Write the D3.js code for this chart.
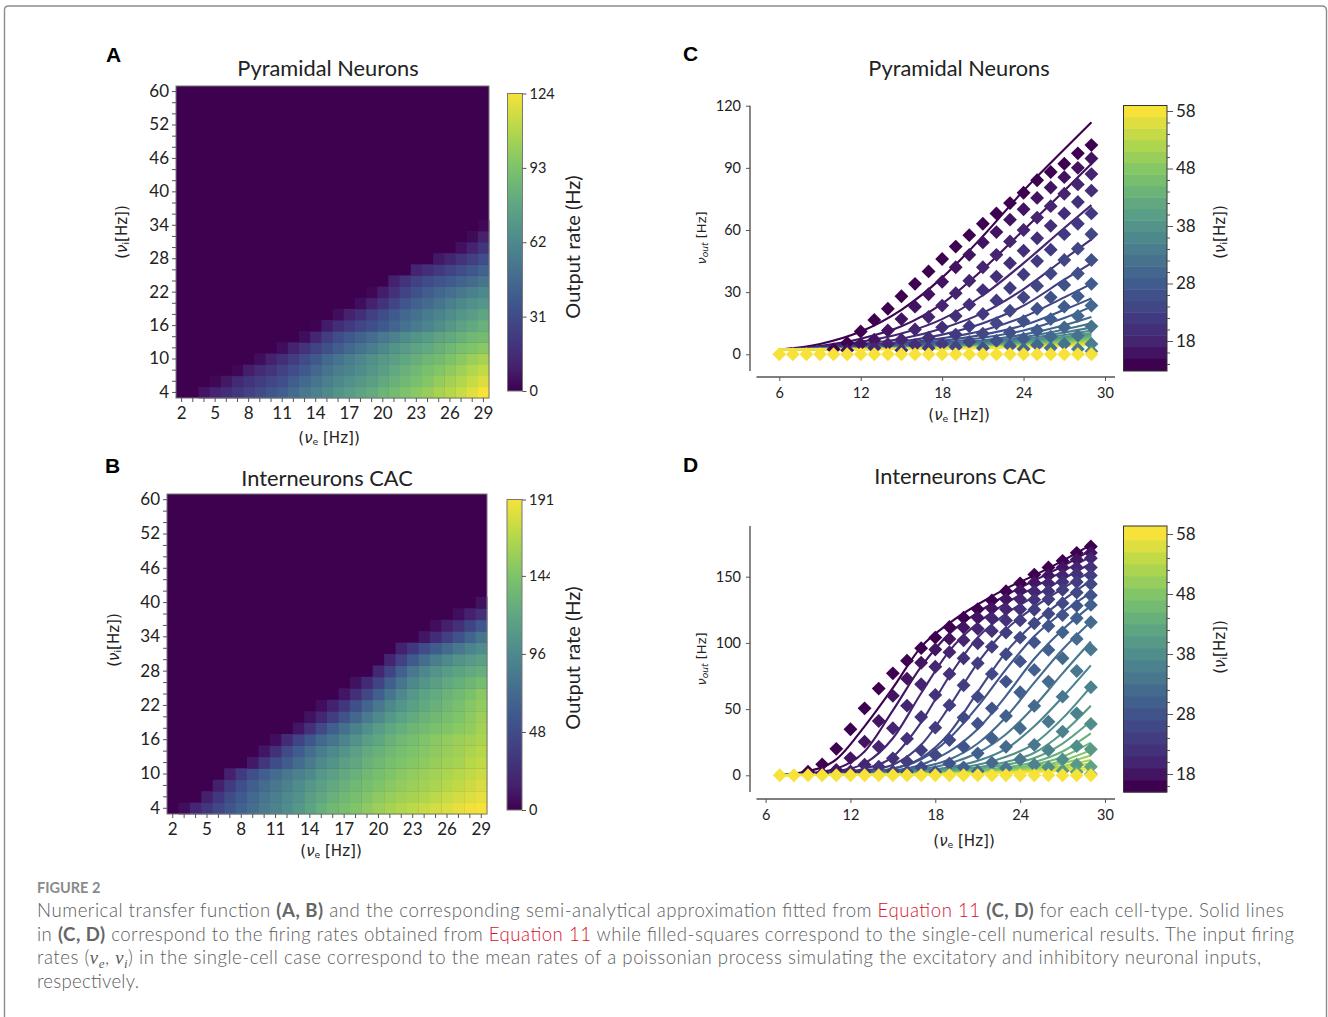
<!DOCTYPE html>
<html>
<head>
<meta charset="utf-8">
<script src="https://cdn.jsdelivr.net/npm/d3@7"></script>
<style>
    html, body { margin: 0; padding: 0; background: #fff; overflow: hidden; }
    text { font-family: Lato, "Noto Sans", sans-serif; fill: #222; }
    .nu { font-family: "DejaVu Sans", sans-serif; font-style: italic; }
    .unit { font-family: "DejaVu Sans", sans-serif; }
    .letter { font-family: "Liberation Sans", sans-serif; font-weight: 700; font-size: 21px; fill: #000; }
    .caption { font-weight: 300; font-size: 18.6px; fill: #5c5c5c; }
    .caption .bold { font-weight: 700; fill: #666; }
    .caption .link { fill: #d5122f; }
    .caption .greek { font-family: "Liberation Serif", serif; font-style: italic; }
    .domain, .tick line { stroke: #555; }
</style>
</head>
<body>
<svg id="fig" width="1328" height="1017"></svg>
<script>
// heatmap axes
const veCols = d3.range(2, 30);
const rowIdx = d3.range(28);
const rowTickLabels = [4, 10, 16, 22, 28, 34, 40, 46, 52, 60];

// heatmap A, rows from vi=4 upwards, only the non-zero right end of each row
const heatA = [
    [6,11,16,21,26,31,36,41,47,53,58,63,68,72,76,80,85,89,93,97,101,105,109,113,119,124],
    [2,7,14,19,24,29,33,40,46,52,57,62,66,70,74,79,83,87,91,95,100,104,108,113,118],
    [2,9,15,20,26,32,38,45,51,56,60,64,69,74,79,83,87,91,95,99,103,108,112],
    [4,10,17,24,31,38,46,51,56,61,66,71,74,78,82,86,89,93,97,102,105],
    [4,11,19,27,34,40,46,51,56,62,68,72,76,79,83,87,91,94,97],
    [4,13,24,32,38,43,48,54,59,64,68,72,76,79,83,87,89],
    [1,8,16,22,28,33,38,44,50,55,60,65,70,75,79,83],
    [4,10,17,25,32,39,45,50,55,60,64,69,73,77],
    [4,10,19,28,36,42,47,52,57,62,66,69],
    [2,9,18,27,34,40,45,49,53,58,62],
    [10,19,26,31,35,39,43,47,52],
    [12,17,22,27,32,37,42],
    [7,12,19,25,32],
    [5,11,20],
    [3,10],
    [2]
];

// heatmap B, same layout
const heatB = [
    [6,19,32,44,55,65,74,84,92,99,107,117,126,134,139,145,151,157,162,166,170,174,178,181,185,189,191],
    [15,32,48,59,71,80,88,96,103,113,120,128,134,139,145,151,155,159,162,166,170,174,178,181,185],
    [15,34,50,63,73,82,90,99,107,115,122,128,134,139,145,149,153,157,160,164,168,172,176,180],
    [15,34,50,63,73,82,90,97,107,115,122,128,134,139,145,149,153,157,160,164,168,172,176],
    [11,31,48,61,73,84,96,105,113,120,128,134,139,143,147,151,155,159,162,168,172],
    [10,27,46,61,74,86,96,105,115,122,128,134,139,143,147,151,155,159,164,168],
    [6,23,42,57,71,80,92,103,113,120,128,134,139,144,149,153,157,160,164],
    [10,27,46,63,76,90,101,111,120,126,132,137,141,145,149,153,160],
    [8,20,36,54,69,84,97,107,116,123,129,134,139,144,150,157],
    [6,16,32,50,67,82,95,106,115,122,128,134,140,147,153],
    [10,26,44,63,80,95,107,116,123,129,135,142,149],
    [8,22,42,62,80,95,106,114,121,127,133,138],
    [20,42,64,82,94,104,111,117,122,126],
    [18,40,60,75,87,96,104,110,115],
    [16,32,48,61,72,82,91,99],
    [10,23,38,53,67,80],
    [6,15,27,42,57],
    [6,15,27],
    [8]
];

// fitted lines of panel C, vi=14,16,...,58 at these ve values
const kneesC = [6, 9, 12, 15, 18, 21, 24, 27, 29];
const linesC = [
    [2.3,5,11,21.5,37,57,79,99,112],
    [2.3,4,7.5,13.5,24.5,41,60,79,92],
    [2.3,3.6,6,10,17,28.5,44,61,72],
    [2.3,3.3,5,7.5,12.5,20,31.5,46,55.5],
    [2.3,3.1,4.3,6.2,9.5,15,23.5,36,44],
    [2.3,3,3.8,5.4,7.7,11.5,18,27.5,34],
    [2.3,2.9,3.5,4.7,6.5,9.5,14,21.5,27],
    [2.3,2.8,3.3,4.3,5.7,8,11.5,17.5,23],
    [2.3,2.8,3.1,3.9,5,6.8,9.5,14,18],
    [2.3,2.7,3,3.6,4.5,6,8.3,12,15],
    [2.3,2.7,2.9,3.4,4.2,5.4,7.4,10.5,13],
    [2.3,2.6,2.8,3.2,3.9,5,6.7,9.3,11.5],
    [2.3,2.6,2.8,3.1,3.7,4.6,6.1,8.4,10.3],
    [2.3,2.6,2.7,3,3.5,4.3,5.6,7.7,9.5],
    [2.3,2.5,2.7,2.9,3.4,4.1,5.2,7.1,8.8],
    [2.3,2.5,2.6,2.9,3.3,3.9,4.9,6.6,8.1],
    [2.3,2.5,2.6,2.8,3.2,3.7,4.6,6.1,7.5],
    [2.3,2.5,2.6,2.8,3.1,3.6,4.4,5.7,7],
    [2.3,2.4,2.5,2.7,3,3.5,4.2,5.3,6.4],
    [2.3,2.4,2.5,2.7,2.9,3.4,4,5,5.9],
    [2.3,2.4,2.5,2.6,2.9,3.3,3.8,4.6,5.4],
    [2.3,2.4,2.5,2.6,2.8,3.2,3.6,4.3,5],
    [2.3,2.4,2.4,2.6,2.7,3,3.4,4,4.5]
];

// numerical points of panel C, vi=14,16,...; each list ends at ve=29
const pointsC = [
    [2.4,5.5,11,16.6,22,28,34,40,46,52,57.5,63,68,73,78,84,88,92,97,101],
    [2,5,7,11.5,17,23,29,35,42,48,54,59,65,70,75.5,80.5,85.5,90,94.5],
    [3,5,7,12,18,23.5,29.5,35.5,42,48,54.5,60,66,71.5,77.5,82,87],
    [2,4.5,8,13,18.5,24,31,37.5,44,50,56,62,68,73.5,79],
    [3,5,9.5,13.5,19.5,26,32,38.5,45,50.5,58,63,68],
    [3.5,6,10,15,21,27.5,33,39,45.5,51,58],
    [3,6.5,10.5,16,22,27.5,33.5,39,45.5],
    [4,7.5,11.5,17,23,28,34],
    [2.5,4.5,8.5,13,18.5,23.5],
    [3,5,9,13.5],
    [2.5,5],
    [1.5]
];
const flatC = [0,0,0,0,0,0,0,0,0,0,0,0,0,0,0,0,0,0,0,0,0,0,0,0];

// fitted lines of panel D, vi=16,18,...,58
const kneesD = [7, 9, 11, 13, 15, 17, 19, 21, 23, 25, 27, 29];
const linesD = [
    [0.5,3,12,37,66,97,115,129,141,151,162,174],
    [0.4,1.5,5,18,49,82,107,123,136,147,158,170],
    [0.4,1,3,9,28,62,94,115,130,142,154,165],
    [0.3,0.8,2,5,14,40,75,104,122,135,148,160],
    [0.3,0.7,1.5,3.5,8,23,52,85,110,127,141,154],
    [0.3,0.6,1.2,2.5,5,13,32,63,93,115,132,147],
    [0.3,0.6,1,2,5,12,28,52,80,105,123,138],
    [0.3,0.5,0.9,1.6,3.5,8,18,35,60,88,110,128],
    [0.3,0.5,0.8,1.3,2.6,6,12,24,44,70,95,116],
    [0.3,0.5,0.7,1.1,2.1,4.5,9,17,31,52,77,101],
    [0.3,0.4,0.6,1,2,3.5,6,11,20,37,59,83],
    [0.2,0.4,0.6,0.9,1.6,2.9,5,8,14,24,43,67],
    [0.2,0.4,0.5,0.8,1.4,2.4,4,6,10,17,32,52.6],
    [0.2,0.3,0.5,0.7,1.2,2,3.2,5,8,13,24,41],
    [0.2,0.3,0.4,0.6,1,1.7,2.7,4,6,10,18,31.7],
    [0.2,0.3,0.4,0.6,0.9,1.4,2.3,3.4,5,8,14,24.7],
    [0.2,0.3,0.4,0.5,0.8,1.2,1.9,2.8,4,6.5,11,19],
    [0.2,0.3,0.3,0.5,0.7,1,1.6,2.4,3.4,5.2,9,15],
    [0.1,0.2,0.3,0.4,0.6,0.9,1.4,2,2.9,4.3,7,11.6],
    [0.1,0.2,0.3,0.4,0.5,0.8,1.2,1.7,2.4,3.6,5.6,9],
    [0.1,0.2,0.3,0.3,0.5,0.7,1,1.5,2,3,4.4,6.5],
    [0.1,0.2,0.2,0.3,0.4,0.6,0.9,1.2,1.7,2.4,3.4,4.5]
];

// numerical points of panel D, vi=16,18,...
const pointsD = [
    [2.7,8.3,20,34.8,50.6,65.5,77,86.6,96,104,112,119,125.5,132,139,145,151.6,157,162,168,172.8],
    [1.5,4,13,25.4,41,60,73,85,95,103,111.6,119,126,133,139.5,145.6,151,157,163,168],
    [3,8,21.6,35.5,52.6,68.8,82,93,102,110.6,118.6,125.4,133,138.8,145,151,157,164],
    [2.5,6.5,12.8,27.7,44,60.7,76.6,88.4,99.7,109,117,125.4,132.5,139,146,152,157],
    [3,10.3,19,36,53,68,84.6,97,107.8,117,125,133,140,146,151],
    [2.5,6,15.4,26.7,43.6,59.4,76.6,91.4,104,114.8,122,130,138,144.5],
    [2.5,9,21.6,39,50.6,70.8,86,100.5,112.8,121,128,136],
    [6,16.6,28,44.8,62.7,79.6,94.7,108,118.6,128.7],
    [3,9.5,21.6,35.5,52.4,70.8,88.4,103,115.6],
    [5.5,12,23,40.5,59.4,78.8,95],
    [8,19,33,46.8,66.5],
    [6,12,22,38.8],
    [3.5,8,19.6],
    [2.5,6.5],
    [1]
];
const flatD = [0,0,0,0,0,0,0,0,0,0,0,0,0,0,0,0,0,0,0,0,0,0,0];

// colours
const stops = ["#3d0150", "#45216e", "#423a80", "#3f5a8e", "#47758e", "#4f8d8c", "#5fa782", "#7cc36b", "#b5d84a", "#f7e23a"];
const stopAt = [0, 0.08, 0.18, 0.31, 0.42, 0.52, 0.63, 0.75, 0.88, 1];
const ramp = d3.scaleLinear().domain(stopAt).range(stops).interpolate(d3.interpolateRgb).clamp(true);

const svg = d3.select("#fig");

// frame around the figure
svg.append("path")
    .attr("d", "M4.5,1017V10q0,-4 4,-4H1322q4,0 4.5,4V1017")
    .attr("fill", "none")
    .attr("stroke", "#8c8c8c")
    .attr("stroke-width", 1.4);

function nuLabel(sel, sub, bracket) {
    // writes (nu_e [Hz]) style labels
    sel.append("tspan").attr("class", "unit").text("(");
    sel.append("tspan").attr("class", "nu").text("ν");
    sel.append("tspan").attr("class", "unit").attr("font-size", "0.62em").attr("dy", "0.25em").text(sub);
    sel.append("tspan").attr("class", "unit").attr("dy", "-0.16em").text(bracket);
}

function heatPanel(o) {
    const g = svg.append("g");
    const x = d3.scaleBand().domain(veCols).range([o.left, o.right]);
    const y = d3.scaleBand().domain(rowIdx).range([o.bottom, o.top]);
    const colour = v => ramp(v / o.max);

    g.append("rect")
        .attr("x", o.left).attr("y", o.top)
        .attr("width", o.right - o.left).attr("height", o.bottom - o.top)
        .attr("fill", ramp(0));

    o.rows.forEach((row, r) => {
        g.selectAll(null)
            .data(row)
            .enter()
            .append("rect")
            .attr("x", (d, i) => x(veCols[veCols.length - row.length + i]))
            .attr("y", y(r))
            .attr("width", x.bandwidth() + 0.4)
            .attr("height", y.bandwidth() + 0.4)
            .attr("fill", colour);
    });

    g.append("rect")
        .attr("x", o.left).attr("y", o.top)
        .attr("width", o.right - o.left).attr("height", o.bottom - o.top)
        .attr("fill", "none").attr("stroke", "#777").attr("stroke-width", 1);

    const xAxis = d3.axisBottom(x).tickSize(4).tickPadding(2)
        .tickFormat(d => (d - 2) % 3 === 0 ? d : "");
    const yAxis = d3.axisLeft(y).tickSize(4).tickPadding(3)
        .tickFormat(d => d % 3 === 0 ? rowTickLabels[d / 3] : "");
    g.append("g").attr("transform", `translate(0,${o.bottom})`).call(xAxis)
        .call(a => a.select(".domain").remove())
        .selectAll("text").attr("font-size", 17).attr("dy", "0.9em");
    g.append("g").attr("transform", `translate(${o.left},0)`).call(yAxis)
        .call(a => a.select(".domain").remove())
        .selectAll("text").attr("font-size", 17);

    g.append("text").attr("x", o.titleX).attr("y", o.titleY)
        .attr("text-anchor", "middle").attr("font-size", 21.8).text(o.title);

    g.append("text").attr("x", o.xLabelX).attr("y", o.xLabelY)
        .attr("text-anchor", "middle").attr("font-size", 15)
        .call(nuLabel, "e", " [Hz])");
    g.append("text").attr("transform", `translate(${o.yLabelX},${o.yLabelY}) rotate(-90)`)
        .attr("text-anchor", "middle").attr("font-size", 15)
        .call(nuLabel, "i", "[Hz])");

    // colour bar
    const cb = d3.scaleLinear().domain([0, o.max]).range([o.cbBottom, o.cbTop]);
    const gradId = "grad" + o.max;
    const grad = svg.append("defs").append("linearGradient").attr("id", gradId)
        .attr("x1", 0).attr("x2", 0).attr("y1", 1).attr("y2", 0);
    stopAt.forEach((s, i) => grad.append("stop").attr("offset", s).attr("stop-color", stops[i]));
    g.append("rect").attr("x", o.cbLeft).attr("y", o.cbTop)
        .attr("width", 15).attr("height", o.cbBottom - o.cbTop)
        .attr("fill", `url(#${gradId})`).attr("stroke", "#777").attr("stroke-width", 1);
    const cbAxis = g.append("g").attr("class", "cb-axis").attr("transform", `translate(${o.cbLeft + 15},0)`)
        .call(d3.axisRight(cb).tickValues(o.cbTicks).tickFormat(d3.format("d")).tickSize(4).tickPadding(3))
        .call(a => a.select(".domain").remove());
    cbAxis.selectAll("text").attr("font-size", 14.5);

    g.append("text").attr("transform", `translate(${o.rateX},${o.rateY}) rotate(-90)`)
        .attr("text-anchor", "middle").attr("font-size", 20).text("Output rate (Hz)");
    return g;
}

function curvePanel(o) {
    const g = svg.append("g");
    const x = d3.scaleLinear().domain([6, 30]).range([o.x6, o.x30]);
    const y = d3.scaleLinear().domain([0, o.refVal]).range([o.y0, o.yRef]);
    const vals = d3.range(o.firstVi, 60, 2);
    const colour = d3.scaleLinear().domain([o.firstVi, 58]).range([0, 1]);
    const col = v => ramp(colour(v));

    const line = d3.line().x(d => x(d[0])).y(d => y(d[1])).curve(d3.curveMonotoneX);
    o.lines.forEach((row, i) => {
        g.append("path")
            .attr("d", line(row.map((v, k) => [o.knees[k], v])))
            .attr("fill", "none")
            .attr("stroke", col(vals[i]))
            .attr("stroke-width", 2.1);
    });

    const diamond = d3.symbol(d3.symbolSquare, 96);
    const drawPoints = (row, v) => {
        g.selectAll(null)
            .data(row)
            .enter()
            .append("path")
            .attr("d", diamond())
            .attr("transform", (d, i) => `translate(${x(29 - row.length + 1 + i)},${y(d)}) rotate(45)`)
            .attr("fill", col(v));
    };
    o.points.forEach((row, i) => drawPoints(row, vals[i]));
    drawPoints(o.flat, 58);

    // axes, left and bottom spines offset like in the original
    g.append("g").attr("transform", `translate(${o.axisX},0)`)
        .call(d3.axisLeft(y).tickValues(o.yTicks).tickSize(4).tickPadding(5).tickFormat(d3.format("d")))
        .call(a => a.select(".domain").remove())
        .selectAll("text").attr("font-size", 14.5);
    g.append("line").attr("x1", o.axisX).attr("x2", o.axisX).attr("y1", o.spineTop).attr("y2", o.spineBottom)
        .attr("stroke", "#555").attr("stroke-width", 1.4);
    g.append("g").attr("transform", `translate(0,${o.axisY})`)
        .call(d3.axisBottom(x).tickValues([6, 12, 18, 24, 30]).tickSize(4).tickPadding(7).tickFormat(d3.format("d")))
        .call(a => a.select(".domain").remove())
        .selectAll("text").attr("font-size", 14.5);
    g.append("line").attr("x1", 756.5).attr("x2", 1115).attr("y1", o.axisY).attr("y2", o.axisY)
        .attr("stroke", "#555").attr("stroke-width", 1.4);

    g.append("text").attr("x", o.titleX).attr("y", o.titleY)
        .attr("text-anchor", "middle").attr("font-size", 21.8).text(o.title);
    g.append("text").attr("x", o.xLabelX).attr("y", o.xLabelY)
        .attr("text-anchor", "middle").attr("font-size", 15)
        .call(nuLabel, "e", " [Hz])");

    // y label
    const yl = g.append("text").attr("transform", `translate(${o.yLabelX},${o.yLabelY}) rotate(-90)`)
        .attr("text-anchor", "middle").attr("font-size", 13);
    yl.append("tspan").attr("class", "nu").text("ν");
    yl.append("tspan").attr("class", "nu").attr("font-size", "0.7em").attr("dy", "0.25em").text("out");
    yl.append("tspan").attr("class", "unit").attr("dy", "-0.18em").text(" [Hz]");

    // discrete colour bar, end bands run up to the frame
    const cbStep = o.cbStep;
    const cbY = d3.scaleLinear().domain([18, 58]).range([o.cb18, o.cb58]);
    g.append("rect").attr("x", 1123.5).attr("y", o.cbTop).attr("width", 43.5).attr("height", 20).attr("fill", col(58));
    g.append("rect").attr("x", 1123.5).attr("y", o.cbBottom - 20).attr("width", 43.5).attr("height", 20).attr("fill", col(o.firstVi));
    g.selectAll(null)
        .data(vals)
        .enter()
        .append("rect")
        .attr("x", 1123.5)
        .attr("y", d => cbY(d) - cbStep / 2)
        .attr("width", 43.5)
        .attr("height", cbStep + 0.5)
        .attr("fill", col);
    g.append("rect")
        .attr("x", 1123.5).attr("y", o.cbTop)
        .attr("width", 43.5).attr("height", o.cbBottom - o.cbTop)
        .attr("fill", "none").attr("stroke", "#333").attr("stroke-width", 1);
    const cbAxis = d3.axisRight(cbY).tickValues(vals).tickSize(0).tickPadding(4)
        .tickFormat(d => (d - 18) % 10 === 0 ? d : "");
    g.append("g").attr("transform", "translate(1167,0)").call(cbAxis)
        .call(a => a.select(".domain").remove())
        .call(a => a.selectAll(".tick line").attr("x2", d => (d - 18) % 10 === 0 ? 6 : 3).attr("stroke", "#333"))
        .selectAll("text").attr("font-size", 17).attr("x", 9);

    g.append("text").attr("transform", `translate(${o.viX},${o.viY}) rotate(-90)`)
        .attr("text-anchor", "middle").attr("font-size", 15)
        .call(nuLabel, "i", "[Hz])");
}

heatPanel({
    rows: heatA, max: 124, title: "Pyramidal Neurons", titleX: 328, titleY: 76,
    left: 176, right: 489, top: 86, bottom: 398,
    xLabelX: 329, xLabelY: 443, yLabelX: 127, yLabelY: 232,
    cbLeft: 507.5, cbTop: 93.5, cbBottom: 391, cbTicks: [0, 31, 62, 93, 124],
    rateX: 580, rateY: 247
});

const heatB_ = heatPanel({
    rows: heatB, max: 191, title: "Interneurons CAC", titleX: 327, titleY: 486,
    left: 167, right: 487, top: 494, bottom: 814,
    xLabelX: 331, xLabelY: 856, yLabelX: 119, yLabelY: 640,
    cbLeft: 507, cbTop: 499.5, cbBottom: 810, cbTicks: [0, 48, 96, 144, 191],
    rateX: 580, rateY: 658
});
// the 144 of panel B is cut off in the original, clip is in the tick's own coordinates
svg.append("clipPath").attr("id", "cut144").append("rect").attr("x", 0).attr("y", -12).attr("width", 28).attr("height", 24);
heatB_.select(".cb-axis").selectAll(".tick")
    .filter(d => d === 144)
    .attr("clip-path", "url(#cut144)");

curvePanel({
    title: "Pyramidal Neurons", titleX: 959, titleY: 76,
    x6: 779.3, x30: 1105, refVal: 120, y0: 354.3, yRef: 105.7,
    firstVi: 14, knees: kneesC, lines: linesC, points: pointsC, flat: flatC,
    yTicks: [0, 30, 60, 90, 120], axisX: 750, spineTop: 105.7, spineBottom: 371, axisY: 377,
    xLabelX: 959, xLabelY: 420, yLabelX: 706, yLabelY: 238,
    cb18: 341, cb58: 111, cbStep: 11.5, cbTop: 105.5, cbBottom: 371,
    viX: 1225, viY: 232
});

curvePanel({
    title: "Interneurons CAC", titleX: 960, titleY: 484,
    x6: 765.6, x30: 1105, refVal: 150, y0: 775.3, yRef: 576.7,
    firstVi: 16, knees: kneesD, lines: linesD, points: pointsD, flat: flatD,
    yTicks: [0, 50, 100, 150], axisX: 750, spineTop: 526, spineBottom: 792, axisY: 799,
    xLabelX: 964, xLabelY: 846, yLabelX: 706, yLabelY: 659,
    cb18: 774, cb58: 534, cbStep: 12, cbTop: 526, cbBottom: 792,
    viX: 1225, viY: 647
});

// panel letters
[["A", 106, 62], ["B", 105, 473], ["C", 683, 61], ["D", 683, 472]].forEach(l => {
    svg.append("text").attr("class", "letter").attr("x", l[1]).attr("y", l[2]).text(l[0]);
});

// caption
svg.append("text").attr("x", 37).attr("y", 893).attr("font-size", 14.5).attr("font-weight", 700)
    .style("fill", "#8a8a8a").text("FIGURE 2");

const captionLines = [
    { y: 917, w: 1247, parts: [["Numerical transfer function "], ["(A, B)", "bold"], [" and the corresponding semi-analytical approximation fitted from "], ["Equation 11", "link"], [" "], ["(C, D)", "bold"], [" for each cell-type. Solid lines"]] },
    { y: 941, w: 1257, parts: [["in "], ["(C, D)", "bold"], [" correspond to the firing rates obtained from "], ["Equation 11", "link"], [" while filled-squares correspond to the single-cell numerical results. The input firing"]] },
    { y: 964, w: 1224, parts: [["rates ("], ["ν", "greek"], ["e", "greek", "sub"], [", "], ["ν", "greek"], ["i", "greek", "sub"], [") in the single-cell case correspond to the mean rates of a poissonian process simulating the excitatory and inhibitory neuronal inputs,"]] },
    { y: 988, w: 102, parts: [["respectively."]] }
];
captionLines.forEach(l => {
    const t = svg.append("text").attr("class", "caption").attr("x", 37).attr("y", l.y)
        .attr("textLength", l.w).attr("lengthAdjust", "spacing");
    let down = false;
    l.parts.forEach(p => {
        const s = t.append("tspan").text(p[0]);
        if (p[1]) s.attr("class", p[1]);
        if (p[2] === "sub") { s.attr("dy", 4).attr("font-size", 13); down = true; }
        else if (down) { s.attr("dy", -4); down = false; }
    });
});
</script>
</body>
</html>
